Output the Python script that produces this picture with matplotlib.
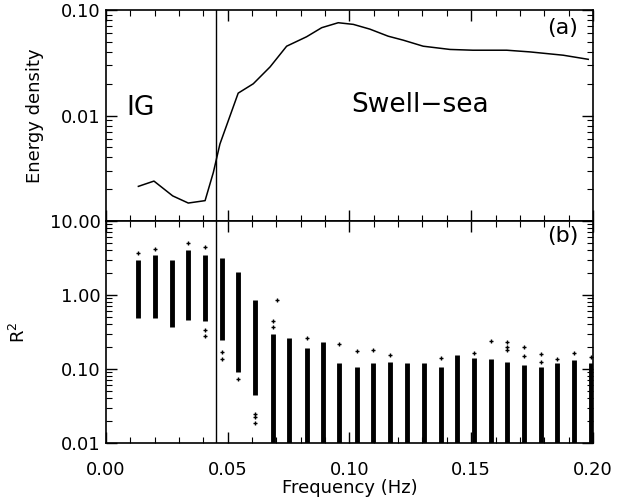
import matplotlib
matplotlib.use("Agg")
import matplotlib.pyplot as plt
from matplotlib.ticker import MultipleLocator, LogLocator, NullFormatter, FormatStrFormatter

# (a) spectrum: energy density vs frequency
energy_freq = [0.0133, 0.0197, 0.0274, 0.0338, 0.0407, 0.0441, 0.0468, 0.0543,
               0.0605, 0.0674, 0.0742, 0.0824, 0.0886, 0.0954, 0.1016, 0.1084,
               0.1159, 0.1221, 0.1303, 0.1413, 0.1507, 0.1646, 0.1741, 0.1878,
               0.1981]
energy = [0.00213, 0.00239, 0.00173, 0.00148, 0.00156, 0.00289, 0.00537, 0.0163,
          0.0200, 0.0289, 0.0454, 0.0558, 0.0680, 0.0758, 0.0731, 0.0659,
          0.0565, 0.0518, 0.0454, 0.0423, 0.0416, 0.0416, 0.0401, 0.0373,
          0.0341]

# (b) R^2 per frequency bin: bulk range of each column
bin_freq = [0.0131, 0.0201, 0.0270, 0.0338, 0.0407, 0.0475, 0.0543, 0.0612,
            0.0685, 0.0753, 0.0824, 0.0892, 0.0958, 0.1030, 0.1098, 0.1166,
            0.1237, 0.1306, 0.1375, 0.1443, 0.1511, 0.1580, 0.1648, 0.1717,
            0.1785, 0.1854, 0.1922, 0.1991]
r2_low = [0.49, 0.49, 0.37, 0.46, 0.44, 0.25, 0.092, 0.045,
          0.01, 0.01, 0.01, 0.01, 0.01, 0.01, 0.01, 0.01,
          0.01, 0.01, 0.01, 0.01, 0.01, 0.01, 0.01, 0.01,
          0.01, 0.01, 0.01, 0.01]
r2_high = [2.97, 3.47, 3.0, 4.05, 3.47, 3.13, 2.07, 0.86,
           0.30, 0.26, 0.19, 0.234, 0.12, 0.107, 0.12, 0.126,
           0.12, 0.12, 0.107, 0.155, 0.139, 0.137, 0.126, 0.113,
           0.107, 0.12, 0.132, 0.12]

# isolated R^2 values outside the bulk of each column
outlier_freq = [0.0131, 0.0201, 0.0338, 0.0407, 0.0407, 0.0407, 0.0475, 0.0475,
                0.0543, 0.0612, 0.0612, 0.0612, 0.0703, 0.0685, 0.0685, 0.0824,
                0.0958, 0.1030, 0.1098, 0.1166, 0.1375, 0.1511, 0.1580, 0.1648,
                0.1648, 0.1648, 0.1717, 0.1717, 0.1785, 0.1785, 0.1854, 0.1922,
                0.1991]
outlier_r2 = [3.73, 4.15, 5.09, 4.41, 0.336, 0.282, 0.171, 0.136,
              0.073, 0.0244, 0.0224, 0.0185, 0.86, 0.44, 0.37, 0.26,
              0.215, 0.175, 0.18, 0.155, 0.139, 0.166, 0.24, 0.23,
              0.20, 0.18, 0.196, 0.15, 0.16, 0.125, 0.135, 0.166,
              0.146]

ig_boundary = 0.045

plt.rcParams['font.family'] = 'DejaVu Sans'
plt.rcParams['font.size'] = 13

fig = plt.figure(figsize=(6.25, 4.99), dpi=100)
ax1 = fig.add_axes([0.1696, 0.5571, 0.779, 0.4228])
ax2 = fig.add_axes([0.1696, 0.1122, 0.779, 0.4449])

ax1.plot(energy_freq, energy, color='black', lw=1.1)
ax1.axvline(ig_boundary, color='black', lw=1.0)
ax1.set_yscale('log')
ax1.set_ylim(0.001, 0.1)
ax1.set_yticks([0.01, 0.1])
ax1.set_yticklabels(['0.01', '0.10'])
ax1.set_ylabel('Energy density')
ax1.yaxis.set_label_coords(-0.127, 0.5)
ax1.text(0.0144, 0.0118, 'IG', fontsize=19, ha='center', va='center')
ax1.text(0.129, 0.0126, 'Swell\u2212sea', fontsize=19, ha='center', va='center')
ax1.text(0.1875, 0.068, '(a)', fontsize=16, ha='center', va='center')

ax2.vlines(bin_freq, r2_low, r2_high, color='black', lw=3.5)
ax2.plot(outlier_freq, outlier_r2, '+', color='black', ms=3.5, mew=1.0)
ax2.axvline(ig_boundary, color='black', lw=1.0)
ax2.set_yscale('log')
ax2.set_ylim(0.01, 10)
ax2.set_yticks([0.01, 0.1, 1, 10])
ax2.set_yticklabels(['0.01', '0.10', '1.00', '10.00'])
ax2.set_ylabel('R$^2$')
ax2.yaxis.set_label_coords(-0.158, 0.5)
ax2.set_xlabel('Frequency (Hz)')
ax2.xaxis.set_label_coords(0.5, -0.16)
ax2.text(0.1875, 6.3, '(b)', fontsize=16, ha='center', va='center')

for ax in (ax1, ax2):
    ax.set_xlim(0.0, 0.2)
    ax.xaxis.set_major_locator(MultipleLocator(0.05))
    ax.xaxis.set_minor_locator(MultipleLocator(0.01))
    ax.xaxis.set_major_formatter(FormatStrFormatter('%.2f'))
    ax.yaxis.set_minor_locator(LogLocator(base=10, subs=range(2, 10)))
    ax.yaxis.set_minor_formatter(NullFormatter())
    ax.tick_params(which='both', direction='in', top=True, right=True)
    ax.tick_params(which='major', length=8, width=1.0)
    ax.tick_params(which='minor', length=4, width=0.8)
    ax.tick_params(axis='y', which='major', pad=4)
    for side in ax.spines.values():
        side.set_linewidth(1.2)

ax1.tick_params(axis='x', labelbottom=False)
ax2.tick_params(axis='x', which='major', pad=13)

fig.savefig('out.png', dpi=100)
